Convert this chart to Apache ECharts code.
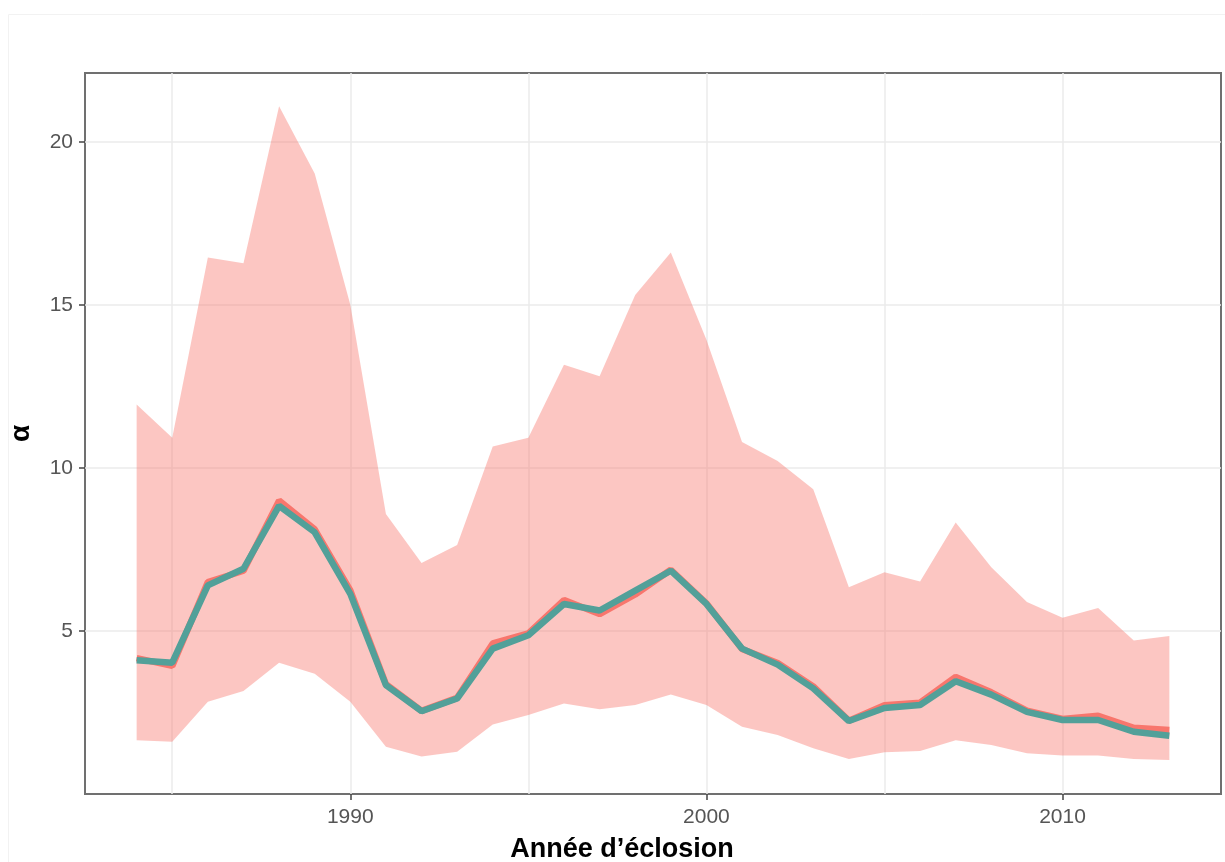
<!DOCTYPE html>
<html>
<head>
<meta charset="utf-8">
<script src="https://cdn.jsdelivr.net/npm/echarts@6/dist/echarts.min.js"></script>
<style>
html,body{margin:0;padding:0;background:#fff;}
#chart{width:1225px;height:862px;}
</style>
</head>
<body>
<div id="chart"></div>
<script>
// Data
var years = [1984,1985,1986,1987,1988,1989,1990,1991,1992,1993,1994,1995,1996,1997,1998,1999,2000,2001,2002,2003,2004,2005,2006,2007,2008,2009,2010,2011,2012,2013];
var upperCI = [11.95,10.93,16.46,16.28,21.10,19.04,15.01,8.59,7.09,7.64,10.66,10.93,13.17,12.82,15.31,16.61,13.94,10.80,10.22,9.35,6.34,6.80,6.52,8.33,6.96,5.89,5.41,5.71,4.71,4.85];
var lowerCI = [1.65,1.60,2.83,3.16,4.03,3.69,2.83,1.45,1.15,1.30,2.13,2.42,2.78,2.60,2.73,3.05,2.73,2.06,1.81,1.40,1.07,1.28,1.32,1.65,1.50,1.25,1.18,1.18,1.07,1.04];
var redLine = [4.17,3.93,6.50,6.85,9.00,8.12,6.25,3.37,2.55,2.95,4.62,4.93,5.95,5.52,6.12,6.88,5.85,4.45,4.02,3.30,2.25,2.72,2.80,3.59,3.12,2.56,2.30,2.40,2.03,1.96];
var tealLine = [4.10,4.03,6.40,6.91,8.84,8.03,6.14,3.34,2.54,2.93,4.46,4.87,5.83,5.63,6.24,6.85,5.83,4.46,3.97,3.24,2.24,2.64,2.73,3.46,3.05,2.52,2.27,2.27,1.91,1.79];
var xTickLabels = [1990, 2000, 2010];
var xMinorGrid = [1985, 1995, 2005];
var yTickLabels = [5, 10, 15, 20];
var xLabel = 'Année d\u2019éclosion';
var yLabel = '\u03b1';

function pairs(xs, ys){ return xs.map(function(x,i){ return [x, ys[i]]; }); }

var chart = echarts.init(document.getElementById('chart'), null, {renderer:'canvas'});
var option = {
  backgroundColor: '#ffffff',
  animation: false,
  graphic: [{
    type: 'rect', silent: true, z: -10,
    shape: {x: 8.5, y: 14.5, width: 1230, height: 860},
    style: {fill: 'none', stroke: '#f2f2f2', lineWidth: 1}
  }],
  grid: {
    left: 85, right: 4, top: 73, bottom: 68,
    containLabel: false, outerBoundsMode: 'none',
    show: true, borderColor: '#707070', borderWidth: 2, backgroundColor: 'transparent'
  },
  xAxis: {
    type: 'value', min: 1982.55, max: 2014.45, splitNumber: 7,
    name: xLabel, nameLocation: 'middle', nameGap: 42,
    nameTextStyle: {fontFamily: 'Liberation Sans, Arial, sans-serif', fontWeight: 'bold', fontSize: 27, color: '#000', padding: [0, 62, 0, 0]},
    axisLine: {show: false},
    axisTick: {show: true, customValues: xTickLabels, length: 6, lineStyle: {color: '#444', width: 1.5}},
    axisLabel: {
      show: true, margin: 13, fontFamily: 'Liberation Sans, Arial, sans-serif', fontSize: 21, color: '#555',
      showMinLabel: false, showMaxLabel: false,
      formatter: function(v){ return xTickLabels.indexOf(Math.round(v*100)/100) >= 0 ? String(v) : ''; }
    },
    splitLine: {show: true, lineStyle: {color: '#ebebeb', width: 1.5}}
  },
  yAxis: {
    type: 'value', min: 0, max: 22.12, interval: 2.5,
    name: yLabel, nameLocation: 'middle', nameGap: 50, nameRotate: 90,
    nameTextStyle: {fontFamily: 'Liberation Sans, Arial, sans-serif', fontWeight: 'bold', fontSize: 28, color: '#000'},
    axisLine: {show: false},
    axisTick: {show: true, customValues: yTickLabels, length: 6, lineStyle: {color: '#444', width: 1.5}},
    axisLabel: {
      show: true, margin: 12, fontFamily: 'Liberation Sans, Arial, sans-serif', fontSize: 21, color: '#555',
      showMinLabel: false, showMaxLabel: false,
      formatter: function(v){ return yTickLabels.indexOf(Math.round(v*100)/100) >= 0 ? String(v) : ''; }
    },
    splitLine: {show: true, lineStyle: {color: '#ebebeb', width: 1.5}}
  },
  series: [
    {
      name: 'ribbon', type: 'custom', silent: true, z: 2,
      data: [[years[0], upperCI[0]]],
      encode: {x: 0, y: 1},
      clip: true,
      renderItem: function(params, api){
        var pts = [];
        for (var i = 0; i < years.length; i++) pts.push(api.coord([years[i], upperCI[i]]));
        for (var j = years.length - 1; j >= 0; j--) pts.push(api.coord([years[j], lowerCI[j]]));
        return {type: 'polygon', shape: {points: pts}, style: {fill: 'rgba(248,118,109,0.42)'}};
      },
      markLine: {
        silent: true, symbol: 'none', z: 1, animation: false,
        label: {show: false},
        lineStyle: {color: '#ebebeb', width: 1.5, type: 'solid'},
        data: xMinorGrid.map(function(x){ return {xAxis: x}; })
      }
    },
    {
      name: 'red', type: 'line', data: pairs(years, redLine),
      showSymbol: false, symbol: 'none', lineStyle: {color: '#F8766D', width: 6.5}, z: 3
    },
    {
      name: 'teal', type: 'line', data: pairs(years, tealLine),
      showSymbol: false, symbol: 'none', lineStyle: {color: '#52A099', width: 6.5}, z: 4
    }
  ]
};
chart.setOption(option);
</script>
</body>
</html>
